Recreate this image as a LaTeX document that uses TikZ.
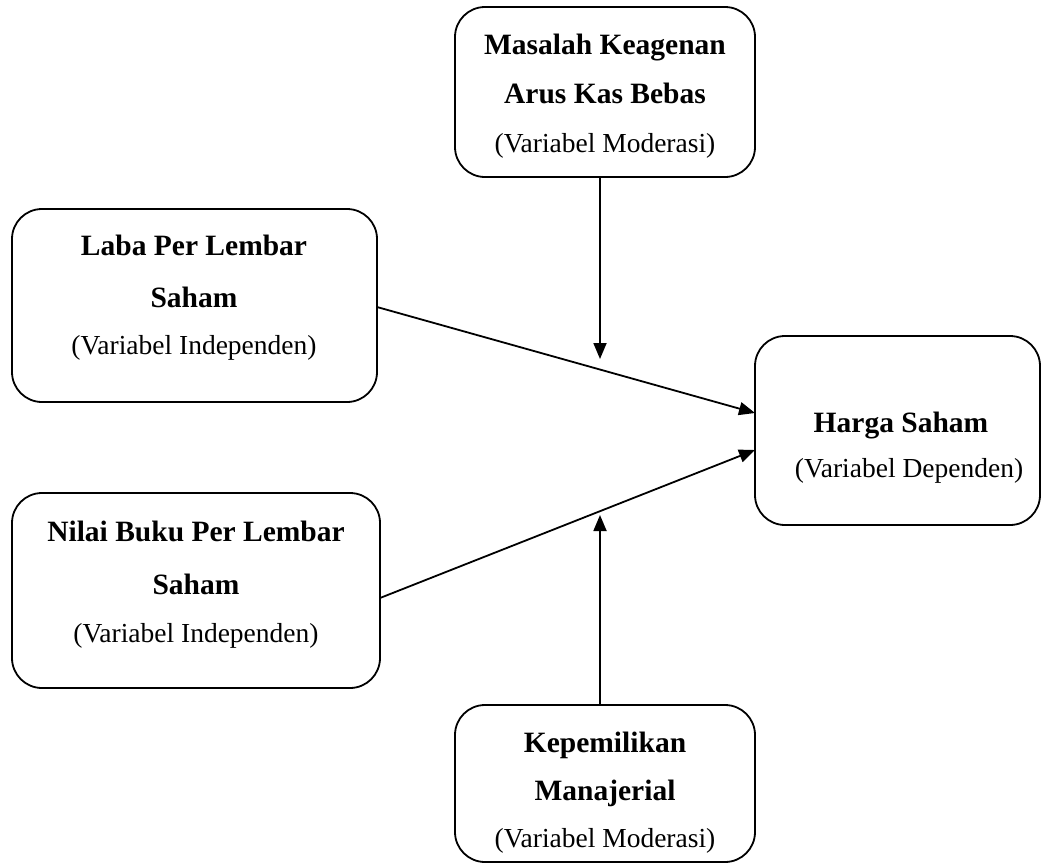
\documentclass[tikz,border=0pt]{standalone}
\usepackage{fontspec}
\setmainfont{Liberation Serif}
\usetikzlibrary{arrows.meta}
\begin{document}
\begin{tikzpicture}[x=1pt,y=-1pt,
  box/.style={draw,line width=1.8pt,rounded corners=30pt,inner sep=0pt},
  bt/.style={font=\fontsize{29.5}{30}\selectfont\bfseries,anchor=base,inner sep=0pt},
  rt/.style={font=\fontsize{27.5}{28}\selectfont,anchor=base,inner sep=0pt},
  arr/.style={line width=1.8pt,-{Triangle[length=16pt,width=13pt]}}]
\useasboundingbox (0,0) rectangle (1041,865);
% boxes
\node[box,minimum width=300pt,minimum height=170pt] (top) at (605,92) {};
\node[box,minimum width=365pt,minimum height=193pt] (lt) at (194.5,305.5) {};
\node[box,minimum width=368pt,minimum height=195pt] (lb) at (196,590.5) {};
\node[box,minimum width=285pt,minimum height=189pt] (dv) at (897.5,430.5) {};
\node[box,minimum width=300pt,minimum height=157pt] (bot) at (605,783.5) {};
% texts
\node[bt] (t1) at (605,54) {Masalah Keagenan};
\node[bt] (t2) at (605,103) {Arus Kas Bebas};
\node[rt] (t3) at (605,152) {(Variabel Moderasi)};
\node[bt] (l1) at (194,255) {Laba Per Lembar};
\node[bt] (l2) at (194,307) {Saham};
\node[rt] (l3) at (194,354) {(Variabel Independen)};
\node[bt] (n1) at (196,541) {Nilai Buku Per Lembar};
\node[bt] (n2) at (196,594) {Saham};
\node[rt] (n3) at (196,642) {(Variabel Independen)};
\node[bt] (h1) at (901,432) {Harga Saham};
\node[rt] (h2) at (909,477) {(Variabel Dependen)};
\node[bt] (k1) at (605,752) {Kepemilikan};
\node[bt] (k2) at (605,800) {Manajerial};
\node[rt] (k3) at (605,847) {(Variabel Moderasi)};
% connector points
\coordinate (topend) at (600,359);
\coordinate (botend) at (600,515);
\coordinate (ltout) at (377,307);
\coordinate (lbout) at (380,598);
\coordinate (dvin1) at (755,413);
\coordinate (dvin2) at (755,450);
% connectors
\draw[arr] ([xshift=-5pt]top.south) -- (topend);
\draw[arr] ([xshift=-5pt]bot.north) -- (botend);
\draw[arr] (ltout) -- (dvin1);
\draw[arr] (lbout) -- (dvin2);
\end{tikzpicture}
\end{document}
